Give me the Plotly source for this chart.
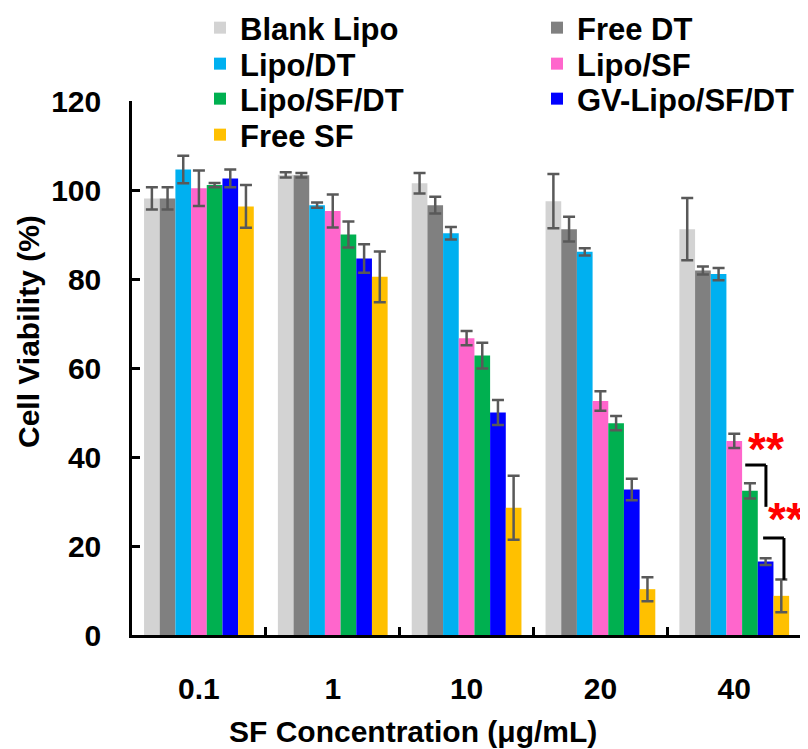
import plotly.graph_objects as go

# ---------------- data ----------------
concentrations = ["0.1", "1", "10", "20", "40"]
series_names = ["Blank Lipo", "Free DT", "Lipo/DT", "Lipo/SF",
                "Lipo/SF/DT", "GV-Lipo/SF/DT", "Free SF"]

blank_lipo = [98.1, 103.4, 101.5, 97.5, 91.2]
free_dt = [98.1, 103.3, 96.6, 91.2, 81.9]
lipo_dt = [104.6, 96.6, 90.3, 86.1, 81.1]
lipo_sf = [100.4, 95.3, 66.7, 52.6, 43.6]
lipo_sf_dt = [101.1, 90.0, 62.8, 47.6, 32.4]
gv_lipo_sf_dt = [102.6, 84.6, 50.0, 32.7, 16.5]
free_sf = [96.3, 80.5, 28.6, 10.3, 8.8]

blank_lipo_err = [2.5, 0.6, 2.3, 6.1, 7.0]
free_dt_err = [2.5, 0.5, 1.9, 2.8, 0.9]
lipo_dt_err = [3.1, 0.6, 1.4, 0.8, 1.4]
lipo_sf_err = [4.0, 3.7, 1.6, 2.2, 1.6]
lipo_sf_dt_err = [0.5, 2.9, 2.9, 1.6, 1.7]
gv_lipo_sf_dt_err = [2.0, 3.2, 2.8, 2.4, 0.75]
free_sf_err = [4.8, 5.7, 7.2, 2.7, 3.7]

values = [blank_lipo, free_dt, lipo_dt, lipo_sf, lipo_sf_dt, gv_lipo_sf_dt, free_sf]
errors = [blank_lipo_err, free_dt_err, lipo_dt_err, lipo_sf_err,
          lipo_sf_dt_err, gv_lipo_sf_dt_err, free_sf_err]
colors = ["#D3D3D3", "#808080", "#00B0F0", "#FF66CC", "#00B050", "#0000FF", "#FFC000"]
legend_rows = ["legend", "legend", "legend2", "legend2", "legend3", "legend3", "legend4"]

# significance marks at the 40 ug/mL group (category index 4), in bar-slot units
sig_group = 4
bracket_1 = dict(x0=0.70, x1=2.02, y_top=38.2, y_bot=28.8)
bracket_2 = dict(x0=1.84, x1=3.17, y_top=21.8, y_bot=12.4)
stars = [dict(slot=2.05, y=41.8), dict(slot=3.30, y=26.1)]

FONT = "Liberation Sans, Arial, sans-serif"
FS = 30
LFS = 31
BARGAP = 0.18
slot = (1 - BARGAP) / len(series_names)

# the page body has an 8px default margin, so the figure is 8px smaller
W, H = 800, 741

fig = go.Figure()
for name, v, e, c, lg in zip(series_names, values, errors, colors, legend_rows):
    fig.add_trace(go.Bar(
        name=name, x=concentrations, y=v,
        marker=dict(color=c, line=dict(width=0)),
        error_y=dict(type="data", array=e, visible=True,
                     color="#595959", thickness=2.5, width=6),
        legend=lg,
    ))

# brackets
for b in (bracket_1, bracket_2):
    xa = sig_group + b["x0"] * slot
    xb = sig_group + b["x1"] * slot
    fig.add_shape(type="line", xref="x", yref="y", x0=xa, x1=xb,
                  y0=b["y_top"], y1=b["y_top"], line=dict(color="black", width=3))
    fig.add_shape(type="line", xref="x", yref="y", x0=xb, x1=xb,
                  y0=b["y_top"], y1=b["y_bot"], line=dict(color="black", width=3))
for s in stars:
    fig.add_annotation(x=sig_group + s["slot"] * slot, y=s["y"], xref="x", yref="y",
                       text="**", showarrow=False,
                       font=dict(family=FONT, size=46, color="#FF0000", weight="bold"))

# axis titles as annotations
fig.add_annotation(text="SF Concentration (μg/mL)", xref="paper", yref="paper",
                   x=(413 - 132) / 674, y=-(731 - 635) / 534, showarrow=False,
                   xanchor="center", yanchor="middle",
                   font=dict(family=FONT, size=FS, color="black", weight="bold"))
fig.add_annotation(text="Cell Viability (%)", xref="paper", yref="paper",
                   x=-(132 - 28) / 674, y=(635 - 332) / 534, showarrow=False, textangle=-90,
                   xanchor="center", yanchor="middle",
                   font=dict(family=FONT, size=FS, color="black", weight="bold"))

legend_common = dict(orientation="h", xref="container", yref="container",
                     x=192 / W, xanchor="left", yanchor="middle",
                     entrywidth=292, entrywidthmode="pixels",
                     bgcolor="rgba(0,0,0,0)", borderwidth=0,
                     font=dict(family=FONT, size=LFS, color="black", weight="bold"))
row_centers = [20, 56, 91, 127]

fig.update_layout(
    width=W, height=H,
    margin=dict(l=124, r=2, t=93, b=114, autoexpand=False),
    paper_bgcolor="white", plot_bgcolor="white",
    barmode="group", bargap=BARGAP, bargroupgap=0,
    showlegend=True,
    legend=dict(**legend_common, y=1 - row_centers[0] / H),
    legend2=dict(**legend_common, y=1 - row_centers[1] / H),
    legend3=dict(**legend_common, y=1 - row_centers[2] / H),
    legend4=dict(**legend_common, y=1 - row_centers[3] / H),
    font=dict(family=FONT, size=FS, color="black"),
)
fig.update_yaxes(range=[0, 120], dtick=20, showgrid=False, zeroline=False,
                 showline=True, linecolor="black", linewidth=2.5,
                 ticks="inside", ticklen=8, tickwidth=2.5, tickcolor="black",
                 ticklabelstandoff=22,
                 tickfont=dict(family=FONT, size=FS, color="black", weight="bold"))
fig.update_xaxes(type="category", showgrid=False, zeroline=False,
                 showline=True, linecolor="black", linewidth=2.5,
                 ticks="inside", tickson="boundaries", ticklen=8, tickwidth=2.5,
                 tickcolor="black", ticklabelstandoff=25,
                 tickfont=dict(family=FONT, size=FS, color="black", weight="bold"))

fig.write_html("out.html")
